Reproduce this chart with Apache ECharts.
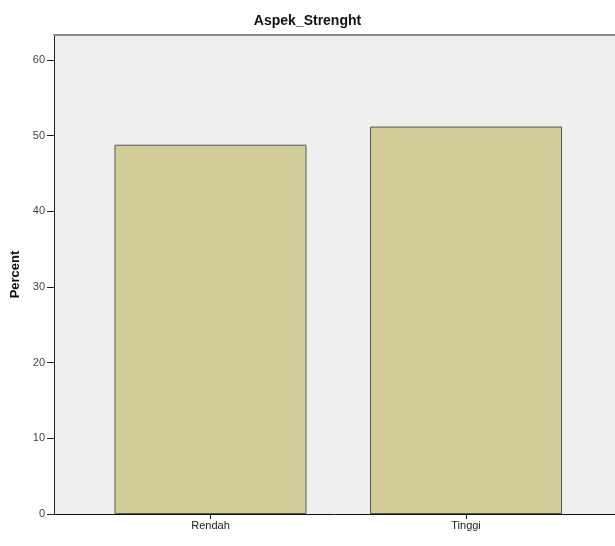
<!DOCTYPE html>
<html>
<head>
<meta charset="utf-8">
<script src="https://cdn.jsdelivr.net/npm/echarts@6/dist/echarts.min.js"></script>
<style>html,body{margin:0;padding:0;background:#fff}#c{width:615px;height:546px}</style>
</head>
<body>
<div id="c"></div>
<script>
const title = 'Aspek_Strenght';
const categories = ['Rendah', 'Tinggi'];
const percent = [48.8, 51.2];
const yTicks = [0, 10, 20, 30, 40, 50, 60];
const yAxisName = 'Percent';

const chart = echarts.init(document.getElementById('c'), null, {renderer: 'canvas'});
const idx = categories.map((c, i) => i);
chart.setOption({
  animation: false,
  backgroundColor: '#ffffff',
  title: {
    text: title, left: 'center', top: 9,
    textStyle: {fontFamily: 'Liberation Sans', fontSize: 14, fontWeight: 'bold', color: '#111'}
  },
  grid: {
    left: 54, top: 35, right: 0, bottom: 32,
    containLabel: false, outerBoundsMode: 'none',
    show: true, backgroundColor: '#efefef', borderWidth: 0
  },
  xAxis: [{
    type: 'value', min: -0.6125, max: 1.583,
    splitLine: {show: false},
    axisLine: {show: true, onZero: false, lineStyle: {color: '#111', width: 1}},
    axisTick: {show: true, customValues: idx, length: 5, lineStyle: {color: '#111'}},
    axisLabel: {
      customValues: idx, formatter: v => categories[Math.round(v)] || '',
      fontFamily: 'Liberation Sans Narrow, Liberation Sans', fontSize: 11, color: '#222', margin: 6
    }
  }, {
    type: 'value', position: 'top', min: -0.6125, max: 1.583,
    splitLine: {show: false},
    axisLine: {show: true, onZero: false, lineStyle: {color: '#8a8a8a', width: 2}},
    axisTick: {show: false}, axisLabel: {show: false}
  }],
  yAxis: {
    type: 'value', min: 0, max: 63.3, interval: 10,
    name: yAxisName, nameLocation: 'middle', nameGap: 26,
    nameTextStyle: {fontFamily: 'Liberation Sans', fontSize: 13, fontWeight: 'bold', color: '#111'},
    splitLine: {show: false},
    axisLine: {show: true, onZero: false, lineStyle: {color: '#222', width: 1}},
    axisTick: {show: true, length: 7, lineStyle: {color: '#222'}},
    axisLabel: {
      fontFamily: 'Liberation Sans Narrow, Liberation Sans', fontSize: 11, color: '#444', margin: 9,
      showMaxLabel: false
    }
  },
  series: [{
    type: 'bar',
    data: idx.map(i => [i, percent[i]]),
    barWidth: 192,
    itemStyle: {color: '#d3ce98', borderColor: '#555', borderWidth: 1}
  }]
});
</script>
</body>
</html>
